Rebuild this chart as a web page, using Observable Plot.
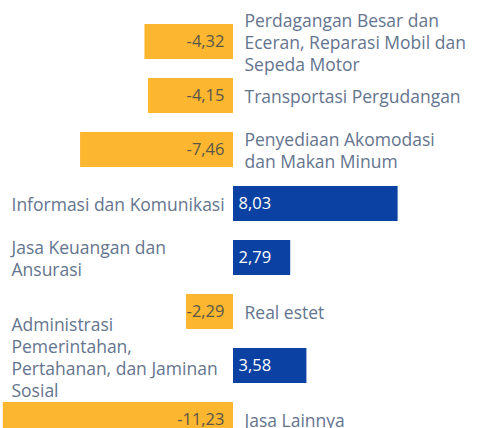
<!DOCTYPE html>
<html>
<head>
<meta charset="utf-8">
<script src="https://cdn.jsdelivr.net/npm/d3@7"></script>
<script src="https://cdn.jsdelivr.net/npm/@observablehq/plot@0.6"></script>
<style>
  html, body { margin: 0; padding: 0; background: #fff; overflow: hidden; }
</style>
</head>
<body>
<div id="chart"></div>
<script>
const categories = [
  "Perdagangan Besar dan\nEceran, Reparasi Mobil dan\nSepeda Motor",
  "Transportasi Pergudangan",
  "Penyediaan Akomodasi\ndan Makan Minum",
  "Informasi dan Komunikasi",
  "Jasa Keuangan dan\nAnsurasi",
  "Real estet",
  "Administrasi\nPemerintahan,\nPertahanan, dan Jaminan\nSosial",
  "Jasa Lainnya"
];
const values = [-4.32, -4.15, -7.46, 8.03, 2.79, -2.29, 3.58, -11.23];

const rows = categories.map((c, i) => ({
  category: c,
  value: values[i],
  lines: c.split("\n").length,
  label: values[i].toFixed(2).replace(".", ",")
}));
const neg = rows.filter(d => d.value < 0);
const pos = rows.filter(d => d.value >= 0 && d.lines <= 3);
const posTall = rows.filter(d => d.value >= 0 && d.lines > 3);
const posAll = rows.filter(d => d.value >= 0);

const orange = "#FDB62F";
const blue = "#0B41A2";
const textColor = "#64748e";
const font = "'Open Sans', 'Noto Sans', sans-serif";

const chart = Plot.plot({
  width: 481,
  height: 428,
  margin: 0,
  style: { fontFamily: font, fontSize: "17px", background: "#fff", overflow: "hidden" },
  x: { domain: [-12, 12], range: [233 - 12 * 20.5, 233 + 12 * 20.5], axis: null },
  y: { type: "band", domain: categories, range: [3, 458], padding: 0.36, axis: null },
  marks: [
    Plot.barX(rows, {
      y: "category", x1: 0, x2: "value",
      fill: d => d.value < 0 ? orange : blue
    }),
    // value labels inside negative bars
    Plot.text(neg, {
      y: "category", x: 0, text: "label", dx: -9,
      textAnchor: "end", fill: "#5a5648", fontSize: 16.5
    }),
    // value labels inside positive bars
    Plot.text(posAll, {
      y: "category", x: 0, text: "label", dx: 5,
      textAnchor: "start", fill: "#ffffff", fontSize: 16.5
    }),
    // category labels for negative bars (right of zero)
    Plot.text(neg, {
      y: "category", x: 0, text: "category", dx: 11,
      textAnchor: "start", fill: textColor, fontSize: 17.5, lineHeight: 1.27
    }),
    // category labels for positive bars (left side)
    Plot.text(pos, {
      y: "category", frameAnchor: "left", text: "category", dx: 11,
      textAnchor: "start", fill: textColor, fontSize: 17.5, lineHeight: 1.25
    }),
    Plot.text(posTall, {
      y: "category", frameAnchor: "left", text: "category", dx: 11, dy: -9,
      textAnchor: "start", fill: textColor, fontSize: 17.5, lineHeight: 1.25
    })
  ]
});
document.getElementById("chart").appendChild(chart);
</script>
</body>
</html>
